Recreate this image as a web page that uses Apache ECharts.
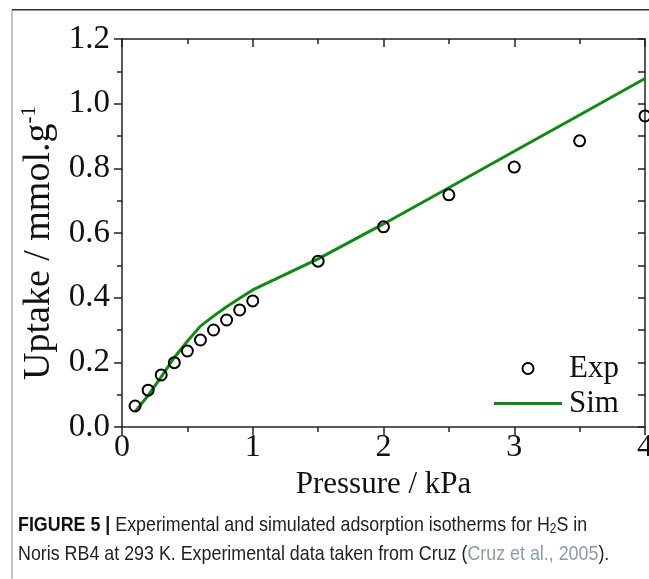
<!DOCTYPE html>
<html>
<head>
<meta charset="utf-8">
<script src="https://cdn.jsdelivr.net/npm/echarts@6/dist/echarts.min.js"></script>
<style>
html,body{margin:0;padding:0;background:#fff;}
#c{width:649px;height:579px;}
</style>
</head>
<body>
<div id="c"></div>
<script>
// ---- data ----
const pressureExp = [0.1, 0.2, 0.3, 0.4, 0.5, 0.6, 0.7, 0.8, 0.9, 1.0, 1.5, 2.0, 2.5, 3.0, 3.5, 4.0];
const uptakeExp   = [0.065, 0.114, 0.161, 0.199, 0.235, 0.269, 0.300, 0.331, 0.362, 0.390, 0.513, 0.619, 0.718, 0.804, 0.885, 0.962];
const pressureSim = [0.1, 0.2, 0.3, 0.4, 0.5, 0.6, 0.7, 0.8, 0.9, 1.0, 1.5, 2.0, 2.5, 3.0, 3.5, 4.0];
const uptakeSim   = [0.047, 0.098, 0.155, 0.215, 0.265, 0.312, 0.343, 0.372, 0.398, 0.424, 0.520, 0.628, 0.740, 0.853, 0.965, 1.078];
const seriesNames = ['Exp', 'Sim'];
const xTitle = 'Pressure / kPa';
const yTitleMain = 'Uptake / mmol.g';
const yTitleSup = '-1';

const expPts = pressureExp.map((p, i) => [p, uptakeExp[i]]);
const simPts = pressureSim.map((p, i) => [p, uptakeSim[i]]);

const serif = 'Liberation Serif, Times New Roman, serif';
const sans = 'Liberation Sans, Arial, sans-serif';
const axisCol = '#222';
const green = '#108a10';

const chart = echarts.init(document.getElementById('c'), null, {renderer: 'canvas'});
chart.setOption({
  animation: false,
  backgroundColor: '#fff',
  grid: {left: 122, right: 4, top: 39, bottom: 152, containLabel: false, outerBoundsMode: 'none'},
  legend: {
    orient: 'vertical',
    left: 489, top: 348,
    itemWidth: 68, itemHeight: 11, itemGap: 4,
    textStyle: {fontFamily: serif, fontSize: 31, color: '#111', padding: [0, 0, 0, 2]},
    data: [
      {name: 'Exp', icon: 'circle', itemStyle: {color: 'rgba(0,0,0,0)', borderColor: '#000', borderWidth: 2}},
      {name: 'Sim', icon: 'path://M0,0 L68,0 L68,3 L0,3 Z', itemStyle: {color: green, borderWidth: 0}}
    ]
  },
  xAxis: [{
    type: 'value', min: 0, max: 4, interval: 1, position: 'bottom',
    name: xTitle, nameLocation: 'middle', nameGap: 38,
    nameTextStyle: {fontFamily: serif, fontSize: 31, color: '#111'},
    axisLine: {show: true, onZero: false, lineStyle: {color: axisCol, width: 1.5}},
    axisTick: {show: true, inside: false, length: 8, lineStyle: {color: axisCol, width: 1.5}},
    minorTick: {show: true, splitNumber: 2, length: 5, lineStyle: {color: axisCol, width: 1.5}},
    axisLabel: {fontFamily: serif, fontSize: 32, color: '#111', margin: 5, hideOverlap: false},
    splitLine: {show: false}
  }, {
    type: 'value', min: 0, max: 4, interval: 1, position: 'top',
    axisLine: {show: true, onZero: false, lineStyle: {color: axisCol, width: 1.5}},
    axisTick: {show: true, inside: true, length: 8, lineStyle: {color: axisCol, width: 1.5}},
    minorTick: {show: true, splitNumber: 2, length: 5, lineStyle: {color: axisCol, width: 1.5}},
    axisLabel: {show: false}, splitLine: {show: false}
  }],
  yAxis: [{
    type: 'value', min: 0, max: 1.2, interval: 0.2, position: 'left',
    name: '{m|' + yTitleMain + '}{s|' + yTitleSup + '}',
    nameLocation: 'middle', nameGap: 57, nameRotate: 90,
    nameTextStyle: {
      fontFamily: serif, fontSize: 38, color: '#111', padding: [0, 20, 0, 0],
      rich: {
        m: {fontFamily: serif, fontSize: 38, color: '#111'},
        s: {fontFamily: serif, fontSize: 21, color: '#111', verticalAlign: 'top', padding: [0, 0, 18, 0]}
      }
    },
    axisLine: {show: true, onZero: false, lineStyle: {color: axisCol, width: 1.5}},
    axisTick: {show: true, inside: false, length: 8, lineStyle: {color: axisCol, width: 1.5}},
    minorTick: {show: true, splitNumber: 2, length: 5, lineStyle: {color: axisCol, width: 1.5}},
    axisLabel: {fontFamily: serif, fontSize: 33, color: '#111', margin: 12, formatter: v => v.toFixed(1)},
    splitLine: {show: false}
  }, {
    type: 'value', min: 0, max: 1.2, interval: 0.2, position: 'right',
    axisLine: {show: true, onZero: false, lineStyle: {color: axisCol, width: 1.5}},
    axisTick: {show: true, inside: true, length: 7, lineStyle: {color: axisCol, width: 1.5}},
    minorTick: {show: true, splitNumber: 2, length: 7, lineStyle: {color: axisCol, width: 1.5}},
    axisLabel: {show: false}, splitLine: {show: false}
  }],
  series: [{
    name: seriesNames[0], type: 'scatter', data: expPts,
    symbol: 'circle', symbolSize: 11,
    itemStyle: {color: 'rgba(0,0,0,0)', borderColor: '#000', borderWidth: 2, opacity: 1},
    clip: false, z: 3
  }, {
    name: seriesNames[1], type: 'line', data: simPts,
    showSymbol: false, symbol: 'none',
    lineStyle: {color: green, width: 3},
    itemStyle: {color: green},
    clip: true, z: 2
  }],
  graphic: [
    {type: 'rect', left: 11, top: 10, shape: {width: 2, height: 569}, style: {fill: '#c4c4c4'}, silent: true},
    {type: 'rect', left: 12, top: 9, shape: {width: 637, height: 1.5}, style: {fill: '#333'}, silent: true},
    {type: 'text', left: 18, top: 515, scaleX: 0.85, scaleY: 1,
      style: {
        text: '{b|FIGURE 5}{bar| | }{n|Experimental and simulated adsorption isotherms for H}{sub|2}{n|S in}',
        rich: {
          b: {fontFamily: sans, fontSize: 21, fontWeight: 'bold', fill: '#111'},
          bar: {fontFamily: sans, fontSize: 21, fontWeight: 'bold', fill: '#111'},
          n: {fontFamily: sans, fontSize: 21, fill: '#222'},
          sub: {fontFamily: sans, fontSize: 14, fill: '#222', verticalAlign: 'bottom', padding: [7, 0, 0, 0]}
        }
      }, silent: true},
    {type: 'text', left: 18, top: 544, scaleX: 0.85, scaleY: 1,
      style: {
        text: '{n|Noris RB4 at 293 K. Experimental data taken from Cruz (}{c|Cruz et al., 2005}{n|).}',
        rich: {
          n: {fontFamily: sans, fontSize: 21, fill: '#222'},
          c: {fontFamily: sans, fontSize: 21, fill: '#8c9ba8'}
        }
      }, silent: true}
  ]
});
</script>
</body>
</html>
